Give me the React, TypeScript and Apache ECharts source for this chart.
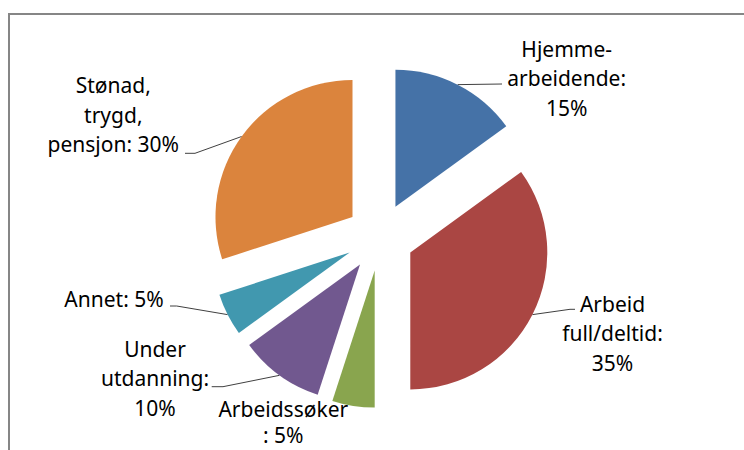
import React, { useEffect, useRef } from "react";
import * as echarts from "echarts";

// ---- data ----
const categories = [
  "Hjemme-\narbeidende",
  "Arbeid\nfull/deltid",
  "Arbeidssøker\n",
  "Under\nutdanning",
  "Annet",
  "Stønad,\ntrygd,\npensjon",
];
const values = [15, 35, 5, 10, 5, 30];
const labelSeparators = ["\n", "\n", " ", "\n", " ", " "];

// ---- style / layout ----
const colors = ["#4572A7", "#AA4643", "#89A54E", "#71588F", "#4198AF", "#DB843D"];
const CX = 380;
const CY = 237;
const R = 137;
const EXPLODE = 34;
const FONT = "'Noto Sans', sans-serif";
const labelCenters: number[][] = [
  [566.7, 78],
  [612.5, 333],
  [283.3, 422],
  [155, 378],
  [114, 299],
  [113.3, 114.5],
];
const labelLineHeights = [29.5, 29.5, 26, 29.5, 29.5, 29.5];
const lineTails: (number[][] | null)[] = [
  [[502, 84], [502, 84]],
  [[570, 309.3], [575, 309.3]],
  null,
  [[223, 386.7], [211.7, 386.7]],
  [[176.7, 306], [170, 306]],
  [[195, 153.3], [185, 153.3]],
];

export default function App() {
  const ref = useRef<HTMLDivElement>(null);
  useEffect(() => {
    document.body.style.margin = "0";
    if (!ref.current) return;
    const chart = echarts.init(ref.current, undefined, { renderer: "svg" });
    const total = values.reduce((a, b) => a + b, 0);
    let cum = 0;
    const mids = values.map((v) => {
      const m = ((cum + v / 2) / total) * 2 * Math.PI;
      cum += v;
      return m;
    });
    const series = values.map((_, i) => {
      const cx = CX + EXPLODE * Math.sin(mids[i]);
      const cy = CY - EXPLODE * Math.cos(mids[i]);
      const p0 = [cx + R * Math.sin(mids[i]), cy - R * Math.cos(mids[i])];
      return {
        type: "pie",
        center: [cx, cy],
        radius: R,
        startAngle: 90,
        clockwise: true,
        avoidLabelOverlap: false,
        silent: true,
        label: { show: false },
        labelLine: { show: false },
        itemStyle: { borderWidth: 0 },
        data: values.map((v, j) => ({
          name: categories[j],
          value: v,
          itemStyle: { color: j === i ? colors[j] : "rgba(0,0,0,0)" },
          label: {
            show: j === i,
            formatter: (p: any) =>
              p.name + ":" + labelSeparators[p.dataIndex] + Math.round(p.percent) + "%",
            fontFamily: FONT,
            fontSize: 21,
            lineHeight: labelLineHeights[j],
            color: "#000",
            overflow: "none",
          },
          labelLine: {
            show: j === i && lineTails[j] != null,
            lineStyle: { color: "#404040", width: 1 },
          },
        })),
        labelLayout: (p: any) => {
          if (p.dataIndex !== i) return {};
          const [lx, ly] = labelCenters[i];
          const tail = lineTails[i];
          const out: any = { x: lx, y: ly, align: "center", verticalAlign: "middle" };
          if (tail) out.labelLinePoints = [p0, tail[0], tail[1]];
          return out;
        },
      };
    });
    chart.setOption({
      animation: false,
      backgroundColor: "#fff",
      graphic: [
        {
          type: "rect",
          z: -1,
          shape: { x: 9, y: 14, width: 800, height: 500 },
          style: { fill: "none", stroke: "#868686", lineWidth: 2 },
        },
      ],
      series,
    });
    return () => chart.dispose();
  }, []);
  return <div ref={ref} style={{ width: 744, height: 450 }} />;
}
